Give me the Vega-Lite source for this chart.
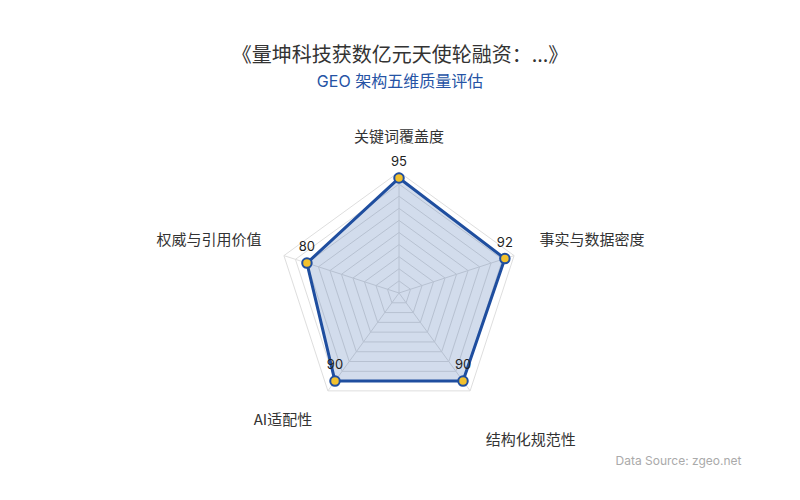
{
  "$schema": "https://vega.github.io/schema/vega-lite/v6.json",
  "width": 800,
  "height": 345,
  "autosize": {"type": "none"},
  "padding": {"left": 0, "top": 100, "right": 0, "bottom": 55},
  "background": "#ffffff",
  "config": {
    "view": {"stroke": null},
    "font": "Inter, Noto Sans CJK SC, sans-serif"
  },
  "title": {
    "text": "《量坤科技获数亿元天使轮融资：...》",
    "subtitle": "GEO 架构五维质量评估",
    "fontSize": 20,
    "fontWeight": "normal",
    "color": "#333333",
    "font": "Noto Sans CJK SC",
    "subtitleFont": "Inter, Noto Sans CJK SC",
    "subtitleFontSize": 16,
    "subtitleColor": "#2553a5",
    "subtitlePadding": 8,
    "anchor": "middle",
    "frame": "group",
    "offset": 10
  },
  "datasets": {
    "scores": [
      {"dim": "关键词覆盖度", "value": 95, "k": 0},
      {"dim": "事实与数据密度", "value": 92, "k": 1},
      {"dim": "结构化规范性", "value": 90, "k": 2},
      {"dim": "AI适配性", "value": 90, "k": 3},
      {"dim": "权威与引用价值", "value": 80, "k": 4}
    ],
    "levels": [
      {"level": 10, "k": [0, 1, 2, 3, 4]},
      {"level": 20, "k": [0, 1, 2, 3, 4]},
      {"level": 30, "k": [0, 1, 2, 3, 4]},
      {"level": 40, "k": [0, 1, 2, 3, 4]},
      {"level": 50, "k": [0, 1, 2, 3, 4]},
      {"level": 60, "k": [0, 1, 2, 3, 4]},
      {"level": 70, "k": [0, 1, 2, 3, 4]},
      {"level": 80, "k": [0, 1, 2, 3, 4]},
      {"level": 90, "k": [0, 1, 2, 3, 4]},
      {"level": 100, "k": [0, 1, 2, 3, 4]}
    ]
  },
  "encoding": {
    "x": {
      "field": "px",
      "type": "quantitative",
      "scale": {"domain": [-329.75, 331.4], "nice": false, "zero": false},
      "axis": {
        "orient": "bottom",
        "domain": false,
        "ticks": false,
        "labels": false,
        "grid": false,
        "title": "Data Source: zgeo.net",
        "titleFont": "Inter",
        "titleFontSize": 12,
        "titleFontWeight": "normal",
        "titleColor": "#aaaaaa",
        "titleX": 741,
        "titleAlign": "right",
        "titlePadding": 10
      }
    },
    "y": {
      "field": "py",
      "type": "quantitative",
      "scale": {"domain": [-125.62, 159.5], "nice": false, "zero": false},
      "axis": null
    }
  },
  "layer": [
    {
      "data": {"name": "levels"},
      "transform": [
        {"flatten": ["k"]},
        {"calculate": "datum.level * sin(datum.k * 2 * PI / 5)", "as": "px"},
        {"calculate": "datum.level * cos(datum.k * 2 * PI / 5)", "as": "py"}
      ],
      "mark": {"type": "line", "interpolate": "linear-closed", "stroke": "#dedede", "strokeWidth": 1},
      "encoding": {
        "detail": {"field": "level", "type": "nominal"},
        "order": {"field": "k", "type": "quantitative"}
      }
    },
    {
      "data": {"name": "scores"},
      "transform": [
        {"calculate": "100 * sin(datum.k * 2 * PI / 5)", "as": "px"},
        {"calculate": "100 * cos(datum.k * 2 * PI / 5)", "as": "py"}
      ],
      "mark": {"type": "rule", "stroke": "#dedede", "strokeWidth": 1},
      "encoding": {
        "x2": {"datum": 0},
        "y2": {"datum": 0}
      }
    },
    {
      "data": {"name": "scores"},
      "transform": [
        {"calculate": "datum.value * sin(datum.k * 2 * PI / 5)", "as": "px"},
        {"calculate": "datum.value * cos(datum.k * 2 * PI / 5)", "as": "py"}
      ],
      "mark": {
        "type": "line",
        "interpolate": "linear-closed",
        "stroke": "#1f4e9f",
        "strokeWidth": 3,
        "fill": "#1f4e9f",
        "fillOpacity": 0.2,
        "strokeJoin": "round"
      },
      "encoding": {
        "order": {"field": "k", "type": "quantitative"}
      }
    },
    {
      "data": {"name": "scores"},
      "transform": [
        {"calculate": "datum.value * sin(datum.k * 2 * PI / 5)", "as": "px"},
        {"calculate": "datum.value * cos(datum.k * 2 * PI / 5)", "as": "py"}
      ],
      "mark": {
        "type": "point",
        "filled": true,
        "fill": "#f2c12e",
        "stroke": "#1f4e9f",
        "strokeWidth": 2,
        "size": 90,
        "opacity": 1
      }
    },
    {
      "data": {"name": "scores"},
      "transform": [
        {"calculate": "datum.value * sin(datum.k * 2 * PI / 5)", "as": "px"},
        {"calculate": "datum.value * cos(datum.k * 2 * PI / 5)", "as": "py"}
      ],
      "mark": {"type": "text", "dy": -16, "fontSize": 13, "color": "#222222", "font": "Inter", "baseline": "middle"},
      "encoding": {"text": {"field": "value", "type": "quantitative"}}
    },
    {
      "data": {"name": "scores"},
      "transform": [
        {"filter": "datum.k == 0"},
        {"calculate": "122 * sin(datum.k * 2 * PI / 5)", "as": "px"},
        {"calculate": "122 * cos(datum.k * 2 * PI / 5)", "as": "py"}
      ],
      "mark": {"type": "text", "align": "center", "baseline": "middle", "dy": -8, "fontSize": 15, "color": "#333333", "font": "Noto Sans CJK SC"},
      "encoding": {"text": {"field": "dim", "type": "nominal"}}
    },
    {
      "data": {"name": "scores"},
      "transform": [
        {"filter": "datum.k == 1"},
        {"calculate": "122 * sin(datum.k * 2 * PI / 5)", "as": "px"},
        {"calculate": "122 * cos(datum.k * 2 * PI / 5)", "as": "py"}
      ],
      "mark": {"type": "text", "align": "left", "baseline": "middle", "dy": -7, "fontSize": 15, "color": "#333333", "font": "Noto Sans CJK SC"},
      "encoding": {"text": {"field": "dim", "type": "nominal"}}
    },
    {
      "data": {"name": "scores"},
      "transform": [
        {"filter": "datum.k == 2"},
        {"calculate": "122 * sin(datum.k * 2 * PI / 5)", "as": "px"},
        {"calculate": "122 * cos(datum.k * 2 * PI / 5)", "as": "py"}
      ],
      "mark": {"type": "text", "align": "left", "baseline": "middle", "dy": 28, "fontSize": 15, "color": "#333333", "font": "Noto Sans CJK SC"},
      "encoding": {"text": {"field": "dim", "type": "nominal"}}
    },
    {
      "data": {"name": "scores"},
      "transform": [
        {"filter": "datum.k == 3"},
        {"calculate": "122 * sin(datum.k * 2 * PI / 5)", "as": "px"},
        {"calculate": "122 * cos(datum.k * 2 * PI / 5)", "as": "py"}
      ],
      "mark": {"type": "text", "align": "right", "baseline": "middle", "dy": 8, "fontSize": 15, "color": "#333333", "font": "Noto Sans CJK SC"},
      "encoding": {"text": {"field": "dim", "type": "nominal"}}
    },
    {
      "data": {"name": "scores"},
      "transform": [
        {"filter": "datum.k == 4"},
        {"calculate": "122 * sin(datum.k * 2 * PI / 5)", "as": "px"},
        {"calculate": "122 * cos(datum.k * 2 * PI / 5)", "as": "py"}
      ],
      "mark": {"type": "text", "align": "right", "baseline": "middle", "dx": 3, "dy": -7, "fontSize": 15, "color": "#333333", "font": "Noto Sans CJK SC"},
      "encoding": {"text": {"field": "dim", "type": "nominal"}}
    }
  ]
}
